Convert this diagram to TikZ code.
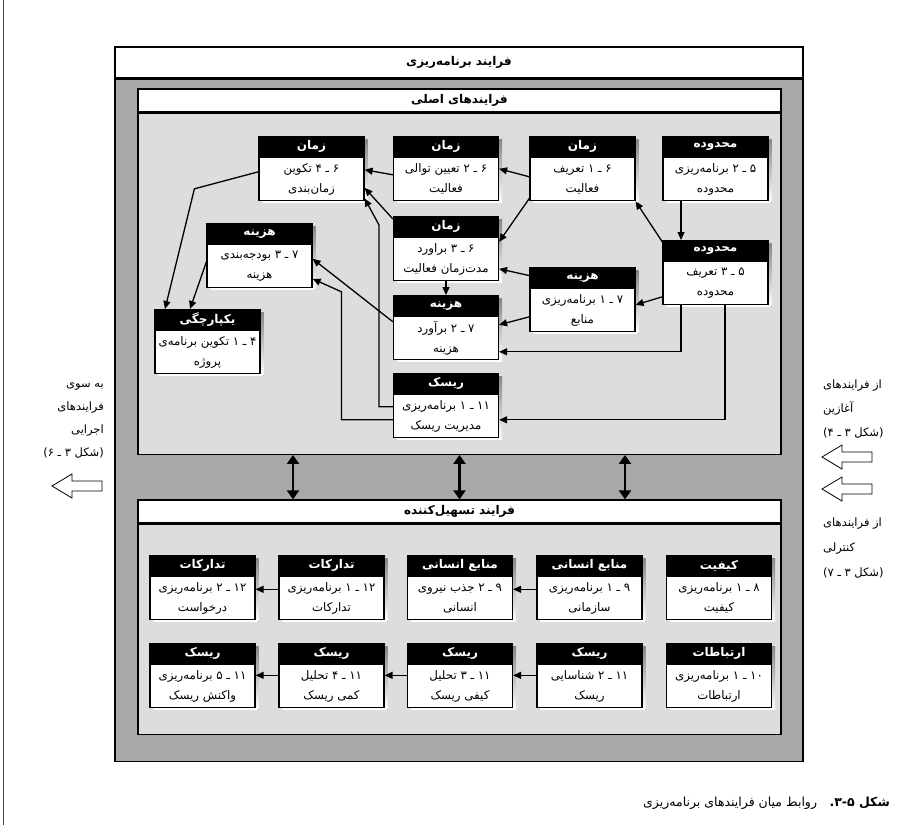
\documentclass[tikz,border=0pt]{standalone}
\usepackage{fontspec}
\usetikzlibrary{arrows.meta}
\TeXXeTstate=1
\newfontfamily\arabicfont[Script=Arabic]{DejaVu Sans}
\definecolor{outergray}{HTML}{A8A8A8}
\definecolor{innergray}{HTML}{DDDDDD}
\definecolor{shade}{HTML}{1E1E1E}
% zero-width non-joiner
\newcommand\zw{^^^^200c}
% process box: name, centre x, top y, header, first line, second line
\newcommand\proc[6]{%
  \fill[shade] (#2,#3) ++(-49,3.5) rectangle ++(105,63);
  \node[phead, anchor=north] (#1h) at (#2,#3) {#4};
  \node[pbody, anchor=north] (#1) at (#1h.south) {#5\\#6};
}
\tikzset{
  cont/.style={draw=black, line width=1.3pt, inner sep=0pt},
  conttitle/.style={font=\arabicfont\bfseries\fontsize{12}{14}\selectfont},
  phead/.style={draw=black, fill=black, text=white, line width=1.2pt,
    minimum width=105pt, minimum height=20pt, inner sep=0pt,
    font=\arabicfont\bfseries\fontsize{12}{13}\selectfont},
  pbody/.style={draw=black, fill=white, line width=1.2pt,
    minimum width=105pt, minimum height=43pt, inner sep=0pt, align=center,
    font=\arabicfont\fontsize{11.8}{20}\selectfont},
  conn/.style={line width=1.3pt, -{Triangle[length=8pt,width=7pt]}},
  dbl/.style={line width=2.8pt,
    {Triangle[length=9pt,width=12pt]}-{Triangle[length=9pt,width=12pt]}},
  sidetext/.style={font=\arabicfont\fontsize{11.5}{13}\selectfont, inner sep=0pt},
  hollow/.style={draw=black, line width=0.8pt, fill=white},
}
\begin{document}
\begin{tikzpicture}[x=1pt,y=-1pt]
\useasboundingbox (0,0) rectangle (904,825);

% page rule on the left edge
\draw[line width=0.8pt, black!70] (3.5,0) -- (3.5,825);

% containers
\node[cont, fill=white, minimum width=688pt, minimum height=31pt, conttitle]
  (outerh) at (459,62.5) {\beginR فرایند برنامه\zw ریزی\endR};
\node[cont, fill=outergray, minimum width=688pt, minimum height=682pt, anchor=north]
  (outer) at (outerh.south) {};
\node[cont, fill=white, minimum width=643pt, minimum height=23pt, conttitle]
  (mainh) at (459.5,100.5) {\beginR فرایندهای اصلی\endR};
\node[cont, fill=innergray, minimum width=643pt, minimum height=341pt, anchor=north]
  (main) at (mainh.south) {};
\node[cont, fill=white, minimum width=643pt, minimum height=23pt, conttitle]
  (fach) at (459.5,511.5) {\beginR فرایند تسهیل\zw کننده\endR};
\node[cont, fill=innergray, minimum width=643pt, minimum height=210pt, anchor=north]
  (fac) at (fach.south) {};

% core processes
\proc{n64}{311.5}{136}{\beginR زمان\endR}{\beginR ۶ ـ ۴ تکوین\endR}{\beginR زمان\zw بندی\endR}
\proc{n62}{446}{136}{\beginR زمان\endR}{\beginR ۶ ـ ۲ تعیین توالی\endR}{\beginR فعالیت\endR}
\proc{n61}{582.5}{136}{\beginR زمان\endR}{\beginR ۶ ـ ۱ تعریف\endR}{\beginR فعالیت\endR}
\proc{n52}{715.5}{136}{\beginR محدوده\endR}{\beginR ۵ ـ ۲ برنامه\zw ریزی\endR}{\beginR محدوده\endR}
\proc{n63}{446}{216}{\beginR زمان\endR}{\beginR ۶ ـ ۳ براورد\endR}{\beginR مدت\zw زمان فعالیت\endR}
\proc{n53}{715.5}{240}{\beginR محدوده\endR}{\beginR ۵ ـ ۳ تعریف\endR}{\beginR محدوده\endR}
\proc{n73}{259.5}{223}{\beginR هزینه\endR}{\beginR ۷ ـ ۳ بودجه\zw بندی\endR}{\beginR هزینه\endR}
\proc{n71}{582.5}{267}{\beginR هزینه\endR}{\beginR ۷ ـ ۱ برنامه\zw ریزی\endR}{\beginR منابع\endR}
\proc{n72}{446}{295}{\beginR هزینه\endR}{\beginR ۷ ـ ۲ برآورد\endR}{\beginR هزینه\endR}
\proc{n41}{207.5}{309}{\beginR یکپارچگی\endR}{\beginR ۴ ـ ۱ تکوین برنامه\zw ی\endR}{\beginR پروژه\endR}
\proc{n111}{446}{373}{\beginR ریسک\endR}{\beginR ۱۱ ـ ۱ برنامه\zw ریزی\endR}{\beginR مدیریت ریسک\endR}

% facilitating processes
\proc{f81}{719}{555}{\beginR کیفیت\endR}{\beginR ۸ ـ ۱ برنامه\zw ریزی\endR}{\beginR کیفیت\endR}
\proc{f91}{589.5}{555}{\beginR منابع انسانی\endR}{\beginR ۹ ـ ۱ برنامه\zw ریزی\endR}{\beginR سازمانی\endR}
\proc{f92}{460}{555}{\beginR منابع انسانی\endR}{\beginR ۹ ـ ۲ جذب نیروی\endR}{\beginR انسانی\endR}
\proc{f121}{331.5}{555}{\beginR تدارکات\endR}{\beginR ۱۲ ـ ۱ برنامه\zw ریزی\endR}{\beginR تدارکات\endR}
\proc{f122}{202.5}{555}{\beginR تدارکات\endR}{\beginR ۱۲ ـ ۲ برنامه\zw ریزی\endR}{\beginR درخواست\endR}
\proc{f101}{719}{643}{\beginR ارتباطات\endR}{\beginR ۱۰ ـ ۱ برنامه\zw ریزی\endR}{\beginR ارتباطات\endR}
\proc{f112}{589.5}{643}{\beginR ریسک\endR}{\beginR ۱۱ ـ ۲ شناسایی\endR}{\beginR ریسک\endR}
\proc{f113}{460}{643}{\beginR ریسک\endR}{\beginR ۱۱ ـ ۳ تحلیل\endR}{\beginR کیفی ریسک\endR}
\proc{f114}{331.5}{643}{\beginR ریسک\endR}{\beginR ۱۱ ـ ۴ تحلیل\endR}{\beginR کمی ریسک\endR}
\proc{f115}{202.5}{643}{\beginR ریسک\endR}{\beginR ۱۱ ـ ۵ برنامه\zw ریزی\endR}{\beginR واکنش ریسک\endR}

% links between core processes
\draw[conn] ([yshift=2.5pt]n61.west) -- ([yshift=10.5pt]n62.east);
\draw[conn] ([yshift=-19pt]n61.west) -- ([yshift=17.5pt]n63.east);
\draw[conn] ([yshift=4.5pt]n62.west) -- ([yshift=9.5pt]n64.east);
\draw[conn] ([yshift=-3pt]n63h.north west) -- ([yshift=-8.5pt]n64.east);
\draw[conn] ([yshift=9.5pt]n111.west) -- ++(-14,0) -- ++(0,-182) -- ([yshift=3pt]n64.south east);
\draw[conn] ([yshift=16.5pt]n72.west) -- ([yshift=7.5pt]n73.east);
\draw[conn] ([yshift=-3.5pt]n111.west) -- ++(-51.5,0) -- ++(0,-128) -- ([yshift=-12.5pt]n73.east);
\draw[conn] ([yshift=7.5pt]n64.west) -- ++(-64,17) -- ([xshift=-42.5pt]n41h.north);
\draw[conn] ([yshift=4.5pt]n73.west) -- ([xshift=-17.5pt]n41h.north);
\draw[conn] ([yshift=2pt]n71h.west) -- ([yshift=-9.5pt]n63.east);
\draw[conn] (n63.south) -- (n72h.north);
\draw[conn] ([yshift=-6.5pt]n71.west) -- ([yshift=13.5pt]n72.east);
\draw[conn] ([yshift=-2pt]n53h.north west) -- (n61.south east);
\draw[conn] ([xshift=-34.5pt]n52.south) -- ([xshift=-34.5pt]n53h.north);
\draw[conn] ([yshift=-13.5pt]n53.west) -- ([yshift=5.5pt]n71.east);
\draw[conn] ([xshift=-34.5pt]n53.south) |- ([yshift=-13.5pt]n72.east);
\draw[conn] ([xshift=9.5pt]n53.south) |- ([yshift=-3.5pt]n111.east);

% links between facilitating processes
\draw[conn] ([yshift=9pt]f91.west) -- ([yshift=9pt]f92.east);
\draw[conn] ([yshift=9pt]f121.west) -- ([yshift=9pt]f122.east);
\draw[conn] ([yshift=11pt]f112.west) -- ([yshift=11pt]f113.east);
\draw[conn] ([yshift=11pt]f113.west) -- ([yshift=11pt]f114.east);
\draw[conn] ([yshift=11pt]f114.west) -- ([yshift=11pt]f115.east);

% two-way links between the two groups
\draw[dbl] ([xshift=-166.5pt]main.south) -- ([xshift=-166.5pt]fach.north);
\draw[dbl] (main.south) -- (fach.north);
\draw[dbl] ([xshift=165.5pt]main.south) -- ([xshift=165.5pt]fach.north);

% outgoing (left) and incoming (right) notes
\node[sidetext, anchor=base east] (l1) at (104,387) {\beginR به سوی\endR};
\node[sidetext, anchor=base east] (l2) at (104,410) {\beginR فرایندهای\endR};
\node[sidetext, anchor=base east] (l3) at (104,433) {\beginR اجرایی\endR};
\node[sidetext, anchor=base east] (l4) at (104,456) {\beginR (شکل ۳ ـ ۶)\endR};
\draw[hollow] (52,486) -- (72,474) -- (72,481) -- (102,481) -- (102,491) -- (72,491) -- (72,498) -- cycle;

\node[sidetext, anchor=base west] (r1) at (823,388) {\beginR از فرایندهای\endR};
\node[sidetext, anchor=base west] (r2) at (823,412) {\beginR آغازین\endR};
\node[sidetext, anchor=base west] (r3) at (823,436) {\beginR (شکل ۳ ـ ۴)\endR};
\draw[hollow] (822,457) -- (842,445) -- (842,452) -- (872,452) -- (872,462) -- (842,462) -- (842,469) -- cycle;
\draw[hollow] (822,489) -- (842,477) -- (842,484) -- (872,484) -- (872,494) -- (842,494) -- (842,501) -- cycle;
\node[sidetext, anchor=base west] (r4) at (823,526) {\beginR از فرایندهای\endR};
\node[sidetext, anchor=base west] (r5) at (823,551) {\beginR کنترلی\endR};
\node[sidetext, anchor=base west] (r6) at (823,576) {\beginR (شکل ۳ ـ ۷)\endR};

% caption
\node[anchor=base east, inner sep=0pt, font=\arabicfont\fontsize{12.5}{14}\selectfont]
  (cap) at (890,806) {\beginR{\bfseries شکل ۳-۵.}\quad روابط میان فرایندهای برنامه\zw ریزی\endR};
\end{tikzpicture}
\end{document}
